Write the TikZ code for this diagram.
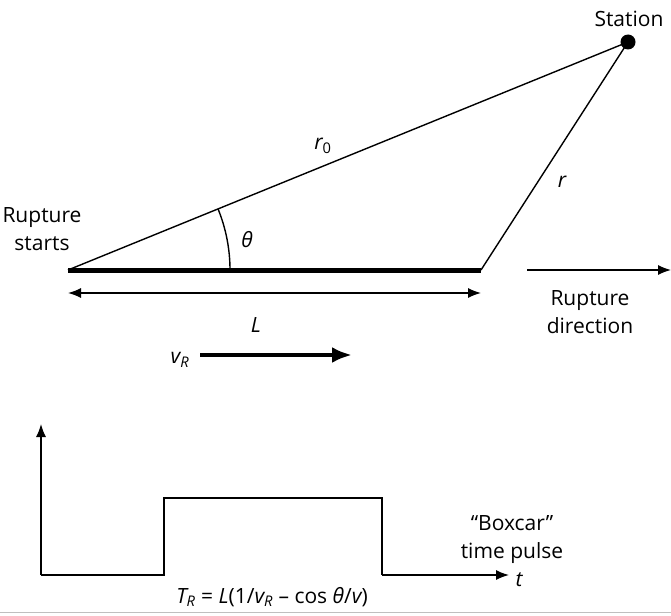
\documentclass[tikz,border=0pt]{standalone}
\usepackage{fontspec}
\setmainfont{Open Sans}
\usetikzlibrary{arrows.meta}
\tikzset{
  lbl/.style={font=\fontsize{21}{28}\selectfont, inner sep=0pt, align=center},
  thin line/.style={line width=1.4pt},
  arr/.style={line width=1.4pt, -{Latex[length=13pt,width=10pt]}},
  darr/.style={line width=1.4pt, {Latex[length=13pt,width=10pt]}-{Latex[length=13pt,width=10pt]}},
}
\begin{document}
\begin{tikzpicture}[x=1pt,y=-1pt]
\useasboundingbox (0,0) rectangle (671,615);
% fault geometry
\coordinate (A) at (68,270);
\coordinate (B) at (481,270);
\node[circle, fill=black, inner sep=0pt, minimum size=15pt] (st) at (628,42) {};
\node[lbl] (stl) at (629,19) {Station};
\draw[line width=5pt] (A) -- (B);
\draw[thin line] (A) -- (st.center);
\draw[thin line] (B) -- (st.center);
\node[lbl] (r0) at (323,146) {\itshape r\textsubscript{\upshape 0}};
\node[lbl] (rl) at (562,182) {\itshape r};
\node[lbl] (rs) at (42,229) {Rupture\\starts};
% theta arc
\draw[thin line] ([shift={(0:162pt)}]A) arc[start angle=0, end angle=22.15, radius=162pt];
\node[lbl] (th) at (247,240) {\itshape θ};
% L arrow
\coordinate (LA) at (68,293);
\coordinate (LB) at (481,293);
\draw[darr] (LA) -- (LB);
\node[lbl] (Ll) at (256,325) {\itshape L};
% rupture direction
\coordinate (RD1) at (527,270);
\coordinate (RD2) at (671,270);
\draw[arr] (RD1) -- (RD2);
\node[lbl] (rdl) at (590,312) {Rupture\\direction};
% vR arrow
\node[lbl] (vr) at (180,360) {\itshape v\textsubscript{R}};
\coordinate (V1) at (200,355);
\coordinate (V2) at (352,355);
\draw[line width=4pt, -{Latex[length=20pt,width=16pt]}] (V1) -- (V2);
% time pulse
\coordinate (O) at (41,575);
\coordinate (Ytop) at (41,424);
\coordinate (P1) at (164,575);
\coordinate (P2) at (164,498);
\coordinate (P3) at (382,498);
\coordinate (P4) at (382,575);
\coordinate (Tend) at (509,575);
\draw[arr] (O) -- (Ytop);
\draw[thin line] (O) -- (P1) -- (P2) -- (P3) -- (P4);
\draw[arr] (P4) -- (Tend);
\node[lbl] (tl) at (519,580) {\itshape t};
\node[lbl] (box) at (512,540) {“Boxcar”\\time pulse};
\node[lbl] (form) at (272,597) {\itshape T\textsubscript{R}\upshape\ = \itshape L\upshape (1/\itshape v\textsubscript{R}\upshape\ – cos \itshape θ\upshape /\itshape v\upshape )};
% bottom rule
\coordinate (G1) at (0,612);
\coordinate (G2) at (671,612);
\draw[gray!50, line width=0.8pt] (G1) -- (G2);
\end{tikzpicture}
\end{document}
